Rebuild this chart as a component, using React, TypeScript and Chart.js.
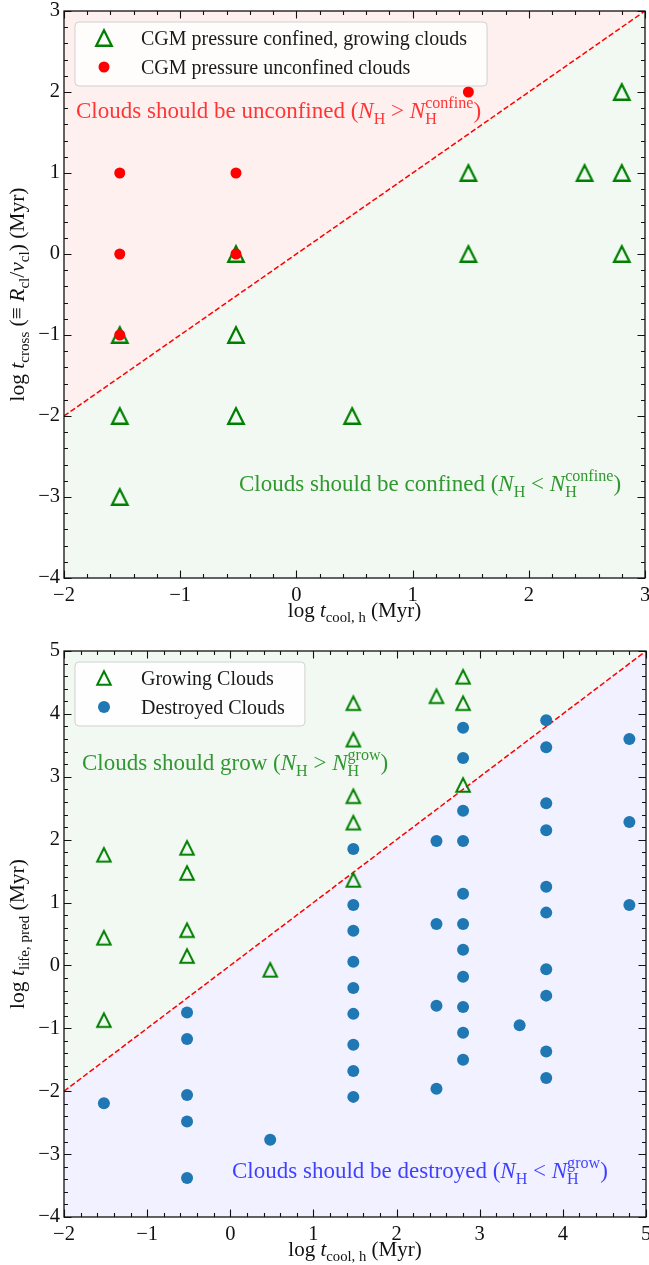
import React, { useEffect, useRef } from 'react';
import { Chart, registerables } from 'chart.js';

Chart.register(...registerables);

const FONT = '"Liberation Serif", "Times New Roman", Times, serif';

// ---------- Top panel data ----------
const topXRange = [-2, 3];
const topYRange = [-4, 3];
const topGrowingX = [-1.52, -1.52, -1.52, -0.52, -0.52, -0.52, 0.48, 1.48, 1.48, 2.48, 2.8, 2.8, 2.8];
const topGrowingY = [-1, -2, -3, 0, -1, -2, -2, 1, 0, 1, 2, 1, 0];
const topUnconfinedX = [-1.52, -1.52, -1.52, -0.52, -0.52, 1.48];
const topUnconfinedY = [1, 0, -1, 1, 0, 2];
const topLegend = ['CGM pressure confined, growing clouds', 'CGM pressure unconfined clouds'];

// ---------- Bottom panel data ----------
const botXRange = [-2, 5];
const botYRange = [-4, 5];
const botGrowingX = [
  -1.52, -1.52, -1.52,
  -0.52, -0.52, -0.52, -0.52,
  0.48,
  1.48, 1.48, 1.48, 1.48, 1.48,
  2.48,
  2.8, 2.8, 2.8,
];
const botGrowingY = [
  1.76, 0.44, -0.87,
  1.87, 1.47, 0.56, 0.15,
  -0.07,
  4.17, 3.59, 2.69, 2.27, 1.36,
  4.28,
  4.59, 4.17, 2.87,
];
const botDestroyedX = [
  -1.52,
  -0.52, -0.52, -0.52, -0.52, -0.52,
  0.48,
  1.48, 1.48, 1.48, 1.48, 1.48, 1.48, 1.48, 1.48, 1.48,
  2.48, 2.48, 2.48, 2.48,
  2.8, 2.8, 2.8, 2.8, 2.8, 2.8, 2.8, 2.8, 2.8, 2.8, 2.8,
  3.48,
  3.8, 3.8, 3.8, 3.8, 3.8, 3.8, 3.8, 3.8, 3.8, 3.8,
  4.8, 4.8, 4.8,
];
const botDestroyedY = [
  -2.19,
  -0.75, -1.17, -2.06, -2.48, -3.38,
  -2.77,
  1.85, 0.96, 0.55, 0.06, -0.36, -0.77, -1.26, -1.68, -2.09,
  1.98, 0.66, -0.64, -1.96,
  3.78, 3.30, 2.46, 1.98, 1.14, 0.66, 0.25, -0.18, -0.66, -1.07, -1.50,
  -0.95,
  3.90, 3.47, 2.58, 2.15, 1.25, 0.84, -0.06, -0.48, -1.37, -1.79,
  3.60, 2.28, 0.96,
];
const botLegend = ['Growing Clouds', 'Destroyed Clouds'];

type Seg = { t: string; i?: boolean; sub?: string; sup?: string };

function fontStr(size: number, italic?: boolean) {
  return `${italic ? 'italic ' : ''}${size}px ${FONT}`;
}

function richWidth(ctx: CanvasRenderingContext2D, segs: Seg[], size: number) {
  let w = 0;
  for (const s of segs) {
    ctx.font = fontStr(size, s.i);
    w += ctx.measureText(s.t).width;
    let sw = 0;
    ctx.font = fontStr(size * 0.7);
    if (s.sub) sw = Math.max(sw, ctx.measureText(s.sub).width);
    if (s.sup) sw = Math.max(sw, ctx.measureText(s.sup).width);
    w += sw;
  }
  return w;
}

function drawRich(
  ctx: CanvasRenderingContext2D,
  segs: Seg[],
  x: number,
  y: number,
  size: number,
  color: string,
  align: 'left' | 'center' | 'right' = 'left'
) {
  const w = richWidth(ctx, segs, size);
  let cx = align === 'center' ? x - w / 2 : align === 'right' ? x - w : x;
  ctx.save();
  ctx.fillStyle = color;
  ctx.textAlign = 'left';
  ctx.textBaseline = 'alphabetic';
  for (const s of segs) {
    ctx.font = fontStr(size, s.i);
    ctx.fillText(s.t, cx, y);
    cx += ctx.measureText(s.t).width;
    ctx.font = fontStr(size * 0.7);
    let sw = 0;
    if (s.sub) {
      ctx.fillText(s.sub, cx, y + size * 0.24);
      sw = Math.max(sw, ctx.measureText(s.sub).width);
    }
    if (s.sup) {
      ctx.fillText(s.sup, cx, y - size * 0.42);
      sw = Math.max(sw, ctx.measureText(s.sup).width);
    }
    cx += sw;
  }
  ctx.restore();
}

function makeTriangle(size: number, lw: number, color: string) {
  const c = document.createElement('canvas');
  const pad = Math.ceil(lw) + 2;
  const dim = Math.ceil(size + 2 * pad);
  c.width = dim;
  c.height = dim;
  const ctx = c.getContext('2d')!;
  const cx = dim / 2;
  const cy = dim / 2;
  ctx.beginPath();
  ctx.moveTo(cx, cy - size / 2);
  ctx.lineTo(cx - size / 2, cy + size / 2);
  ctx.lineTo(cx + size / 2, cy + size / 2);
  ctx.closePath();
  ctx.lineWidth = lw;
  ctx.strokeStyle = color;
  ctx.lineJoin = 'miter';
  ctx.stroke();
  return c;
}

const zip = (xs: number[], ys: number[]) => xs.map((x, i) => ({ x, y: ys[i] }));
const fmt = (v: any) => {
  const n = Number(v);
  if (Math.abs(n - Math.round(n)) > 1e-9) return '';
  return n < 0 ? '\u2212' + Math.abs(n) : String(n);
};

type Annot = { segs: Seg[]; x: number; y: number; color: string };

type PanelSpec = {
  xr: number[];
  yr: number[];
  xAxisH: number;
  rightPad: number;
  aboveColor: string;
  belowColor: string;
  datasets: any[];
  legend: { label: string; marker: 'tri' | 'dot'; color: string; img?: HTMLCanvasElement; r?: number }[];
  annots: Annot[];
  yTitle: Seg[];
  xTitle: Seg[];
};

const zeroPad = (s: any) => {
  s.paddingLeft = 0;
  s.paddingRight = 0;
  s.paddingTop = 0;
  s.paddingBottom = 0;
};

function buildConfig(p: PanelSpec): any {
  const diag = [
    { x: p.xr[0], y: p.xr[0] },
    { x: p.xr[1], y: p.xr[1] },
  ];
  const decor = {
    id: 'decor',
    afterDraw(chart: any) {
      const ctx: CanvasRenderingContext2D = chart.ctx;
      const a = chart.chartArea;
      const xs = chart.scales.x;
      const ys = chart.scales.y;
      ctx.save();
      // ticks (inward, all sides)
      ctx.strokeStyle = '#111';
      ctx.lineWidth = 1.1;
      ctx.beginPath();
      for (let i = Math.round(p.xr[0] * 5); i <= Math.round(p.xr[1] * 5); i++) {
        const major = i % 5 === 0;
        const len = major ? 7.5 : 4;
        const px = Math.round(xs.getPixelForValue(i / 5)) + 0.5;
        ctx.moveTo(px, a.bottom);
        ctx.lineTo(px, a.bottom - len);
        ctx.moveTo(px, a.top);
        ctx.lineTo(px, a.top + len);
      }
      for (let i = Math.round(p.yr[0] * 5); i <= Math.round(p.yr[1] * 5); i++) {
        const major = i % 5 === 0;
        const len = major ? 7.5 : 4;
        const py = Math.round(ys.getPixelForValue(i / 5)) + 0.5;
        ctx.moveTo(a.left, py);
        ctx.lineTo(a.left + len, py);
        ctx.moveTo(a.right, py);
        ctx.lineTo(a.right - len, py);
      }
      ctx.stroke();
      // frame
      ctx.strokeStyle = '#111';
      ctx.lineWidth = 1.3;
      ctx.strokeRect(a.left, a.top, a.right - a.left, a.bottom - a.top);
      ctx.restore();

      // annotations
      for (const an of p.annots) drawRich(ctx, an.segs, an.x, an.y, 23, an.color, 'left');

      // legend
      ctx.save();
      ctx.font = fontStr(20);
      let tw = 0;
      for (const l of p.legend) tw = Math.max(tw, ctx.measureText(l.label).width);
      const lx = a.left + 11;
      const ly = a.top + 11;
      const lw = 77 + tw + 9;
      const lh = 64;
      ctx.beginPath();
      const r = 4;
      ctx.moveTo(lx + r, ly);
      ctx.arcTo(lx + lw, ly, lx + lw, ly + lh, r);
      ctx.arcTo(lx + lw, ly + lh, lx, ly + lh, r);
      ctx.arcTo(lx, ly + lh, lx, ly, r);
      ctx.arcTo(lx, ly, lx + lw, ly, r);
      ctx.closePath();
      ctx.fillStyle = 'rgba(255,255,255,0.8)';
      ctx.fill();
      ctx.strokeStyle = 'rgba(204,204,204,0.9)';
      ctx.lineWidth = 1;
      ctx.stroke();
      p.legend.forEach((l, k) => {
        const my = a.top + 27 + k * 29;
        const mx = a.left + 40;
        if (l.marker === 'tri' && l.img) {
          ctx.drawImage(l.img, mx - l.img.width / 2, my - l.img.height / 2);
        } else {
          ctx.beginPath();
          ctx.arc(mx, my, l.r || 6, 0, Math.PI * 2);
          ctx.fillStyle = l.color;
          ctx.fill();
        }
        ctx.fillStyle = '#1a1a1a';
        ctx.font = fontStr(20);
        ctx.textBaseline = 'alphabetic';
        ctx.textAlign = 'left';
        ctx.fillText(l.label, a.left + 77, a.top + 34 + k * 28.5);
      });
      ctx.restore();

      // axis titles
      drawRich(ctx, p.xTitle, (a.left + a.right) / 2, a.bottom + 39, 21, '#111', 'center');
      ctx.save();
      ctx.translate(24, (a.top + a.bottom) / 2);
      ctx.rotate(-Math.PI / 2);
      drawRich(ctx, p.yTitle, 0, 0, 21.5, '#111', 'center');
      ctx.restore();
    },
  };

  return {
    type: 'scatter',
    data: {
      datasets: [
        ...p.datasets,
        {
          type: 'line',
          label: 'divide',
          data: diag,
          borderColor: 'rgba(255,0,0,1)',
          borderWidth: 1.5,
          borderDash: [5.5, 2.5],
          pointRadius: 0,
          fill: false,
          order: 5,
        },
        {
          type: 'line',
          label: 'above',
          data: diag,
          borderWidth: 0,
          borderColor: 'rgba(0,0,0,0)',
          pointRadius: 0,
          fill: 'end',
          backgroundColor: p.aboveColor,
          order: 6,
        },
        {
          type: 'line',
          label: 'below',
          data: diag,
          borderWidth: 0,
          borderColor: 'rgba(0,0,0,0)',
          pointRadius: 0,
          fill: 'start',
          backgroundColor: p.belowColor,
          order: 7,
        },
      ],
    },
    options: {
      animation: false,
      responsive: false,
      maintainAspectRatio: false,
      devicePixelRatio: 1,
      layout: { autoPadding: false, padding: { top: 11, right: p.rightPad, left: 0, bottom: 0 } },
      plugins: { legend: { display: false }, tooltip: { enabled: false }, title: { display: false } },
      events: [],
      scales: {
        x: {
          type: 'linear',
          min: p.xr[0],
          max: p.xr[1],
          grid: { display: false, drawTicks: false, tickLength: 0 },
          border: { display: false },
          ticks: {
            stepSize: 1,
            autoSkip: false,
            maxRotation: 0,
            padding: 5,
            color: '#111',
            font: { family: FONT, size: 20.5 },
            callback: fmt,
          },
          afterFit: (s: any) => {
            s.height = p.xAxisH;
            zeroPad(s);
          },
        },
        y: {
          type: 'linear',
          min: p.yr[0],
          max: p.yr[1],
          grid: { display: false, drawTicks: false, tickLength: 0 },
          border: { display: false },
          ticks: {
            stepSize: 1,
            autoSkip: false,
            padding: 4,
            color: '#111',
            font: { family: FONT, size: 20.5 },
            callback: fmt,
          },
          afterFit: (s: any) => {
            s.width = 64;
            zeroPad(s);
          },
        },
      },
    },
    plugins: [decor],
  };
}

const W = 649;
const H1 = 640;
const H2 = 625;

export default function App() {
  const ref1 = useRef<HTMLCanvasElement>(null);
  const ref2 = useRef<HTMLCanvasElement>(null);

  useEffect(() => {
    const triTop = makeTriangle(15.5, 2.3, 'green');
    const triBot = makeTriangle(13.5, 2.0, 'green');

    const topSpec: PanelSpec = {
      xr: topXRange,
      yr: topYRange,
      xAxisH: 62,
      rightPad: 4,
      aboveColor: 'rgba(255,0,0,0.06)',
      belowColor: 'rgba(0,128,0,0.05)',
      datasets: [
        {
          label: topLegend[1],
          data: zip(topUnconfinedX, topUnconfinedY),
          pointRadius: 5.5,
          pointBackgroundColor: 'red',
          pointBorderWidth: 0,
          order: 0,
        },
        {
          label: topLegend[0],
          data: zip(topGrowingX, topGrowingY),
          pointStyle: triTop,
          pointRadius: 9,
          order: 1,
        },
      ],
      legend: [
        { label: topLegend[0], marker: 'tri', color: 'green', img: triTop },
        { label: topLegend[1], marker: 'dot', color: 'red', r: 5.5 },
      ],
      annots: [
        {
          segs: [
            { t: 'Clouds should be unconfined (' },
            { t: 'N', i: true, sub: 'H' },
            { t: ' > ' },
            { t: 'N', i: true, sub: 'H', sup: 'confine' },
            { t: ')' },
          ],
          x: 76,
          y: 118,
          color: 'rgba(255,20,20,0.85)',
        },
        {
          segs: [
            { t: 'Clouds should be confined (' },
            { t: 'N', i: true, sub: 'H' },
            { t: ' < ' },
            { t: 'N', i: true, sub: 'H', sup: 'confine' },
            { t: ')' },
          ],
          x: 239,
          y: 491,
          color: 'rgba(0,128,0,0.8)',
        },
      ],
      yTitle: [
        { t: 'log ' },
        { t: 't', i: true, sub: 'cross' },
        { t: ' (\u2261 ' },
        { t: 'R', i: true, sub: 'cl' },
        { t: '/' },
        { t: 'v', i: true, sub: 'cl' },
        { t: ') (Myr)' },
      ],
      xTitle: [{ t: 'log ' }, { t: 't', i: true, sub: 'cool, h' }, { t: ' (Myr)' }],
    };

    const botSpec: PanelSpec = {
      xr: botXRange,
      yr: botYRange,
      xAxisH: 48,
      rightPad: 3,
      aboveColor: 'rgba(0,128,0,0.05)',
      belowColor: 'rgba(0,0,255,0.055)',
      datasets: [
        {
          label: botLegend[1],
          data: zip(botDestroyedX, botDestroyedY),
          pointRadius: 6,
          pointBackgroundColor: '#1f77b4',
          pointBorderWidth: 0,
          order: 0,
        },
        {
          label: botLegend[0],
          data: zip(botGrowingX, botGrowingY),
          pointStyle: triBot,
          pointRadius: 8,
          order: 1,
        },
      ],
      legend: [
        { label: botLegend[0], marker: 'tri', color: 'green', img: triBot },
        { label: botLegend[1], marker: 'dot', color: '#1f77b4', r: 6 },
      ],
      annots: [
        {
          segs: [
            { t: 'Clouds should grow (' },
            { t: 'N', i: true, sub: 'H' },
            { t: ' > ' },
            { t: 'N', i: true, sub: 'H', sup: 'grow' },
            { t: ')' },
          ],
          x: 82,
          y: 130,
          color: 'rgba(0,128,0,0.8)',
        },
        {
          segs: [
            { t: 'Clouds should be destroyed (' },
            { t: 'N', i: true, sub: 'H' },
            { t: ' < ' },
            { t: 'N', i: true, sub: 'H', sup: 'grow' },
            { t: ')' },
          ],
          x: 232,
          y: 538,
          color: 'rgba(30,30,255,0.85)',
        },
      ],
      yTitle: [{ t: 'log ' }, { t: 't', i: true, sub: 'life, pred' }, { t: ' (Myr)' }],
      xTitle: [{ t: 'log ' }, { t: 't', i: true, sub: 'cool, h' }, { t: ' (Myr)' }],
    };

    const c1 = new Chart(ref1.current!, buildConfig(topSpec));
    const c2 = new Chart(ref2.current!, buildConfig(botSpec));
    return () => {
      c1.destroy();
      c2.destroy();
    };
  }, []);

  return (
    <div style={{ position: 'fixed', left: 0, top: 0, width: W, height: H1 + H2, background: '#fff', overflow: 'hidden' }}>
      <canvas ref={ref1} width={W} height={H1} style={{ position: 'absolute', left: 0, top: 0, width: W, height: H1, display: 'block' }} />
      <canvas ref={ref2} width={W} height={H2} style={{ position: 'absolute', left: 0, top: H1, width: W, height: H2, display: 'block' }} />
    </div>
  );
}
